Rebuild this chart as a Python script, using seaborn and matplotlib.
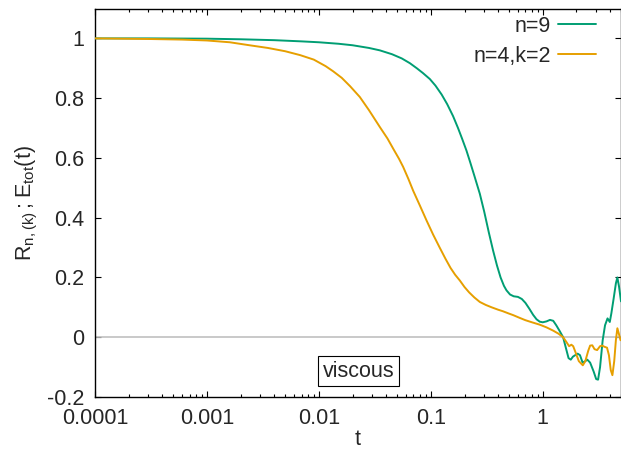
import numpy as np
import pandas as pd
import seaborn as sns
import matplotlib.pyplot as plt
from matplotlib.ticker import LogLocator, FixedLocator, NullFormatter

# values
t_n9 = [1e-4, 3e-4, 1e-3, 0.002, 0.004, 0.007, 0.01, 0.015, 0.02, 0.028,
        0.035, 0.045, 0.055, 0.065, 0.075, 0.085, 0.098, 0.11, 0.125, 0.14,
        0.158, 0.175, 0.19, 0.208, 0.225, 0.245, 0.274, 0.30, 0.33, 0.36,
        0.39, 0.42, 0.45, 0.474, 0.51, 0.55, 0.6, 0.65, 0.7, 0.76,
        0.82, 0.88, 0.94, 1.0, 1.08, 1.16, 1.24, 1.32, 1.42, 1.52,
        1.62, 1.7, 1.78, 1.86, 1.95, 2.05, 2.15, 2.27, 2.4, 2.5,
        2.65, 2.85, 3.0, 3.12, 3.25, 3.43, 3.6, 3.79, 3.97, 4.1,
        4.3, 4.5, 4.64, 4.8, 5.0]
r_n9 = [1.0, 1.0, 0.999, 0.997, 0.994, 0.99, 0.987, 0.982, 0.977, 0.968,
        0.96, 0.947, 0.933, 0.917, 0.9, 0.884, 0.864, 0.842, 0.812, 0.78,
        0.74, 0.70, 0.665, 0.625, 0.585, 0.54, 0.48, 0.42, 0.35, 0.29,
        0.24, 0.2, 0.172, 0.157, 0.143, 0.137, 0.135, 0.128, 0.115, 0.095,
        0.075, 0.06, 0.052, 0.05, 0.053, 0.058, 0.055, 0.04, 0.02, 0.0,
        -0.04, -0.07, -0.075, -0.065, -0.06, -0.055, -0.06, -0.085, -0.08, -0.075,
        -0.085, -0.115, -0.14, -0.142, -0.1, -0.01, 0.04, 0.063, 0.051, 0.08,
        0.13, 0.18, 0.2, 0.17, 0.12]

t_n4k2 = [1e-4, 3e-4, 6e-4, 1e-3, 0.0016, 0.0024, 0.0035, 0.005, 0.0068, 0.009,
          0.0115, 0.0134, 0.016, 0.019, 0.0232, 0.028, 0.0351, 0.041, 0.0466, 0.052,
          0.0566, 0.063, 0.0696, 0.08, 0.0915, 0.105, 0.12, 0.135, 0.15, 0.165,
          0.1815, 0.2, 0.22, 0.245, 0.274, 0.31, 0.35, 0.4, 0.44, 0.5,
          0.544, 0.62, 0.7, 0.8, 0.94, 1.08, 1.24, 1.38, 1.52, 1.62,
          1.72, 1.8, 1.87, 1.96, 2.1, 2.28, 2.4, 2.55, 2.65, 2.77,
          2.9, 3.06, 3.25, 3.4, 3.56, 3.75, 3.9, 4.05, 4.19, 4.35,
          4.5, 4.64, 4.8, 4.95]
r_n4k2 = [1.0, 0.998, 0.996, 0.993, 0.987, 0.977, 0.968, 0.957, 0.944, 0.929,
          0.907, 0.89, 0.868, 0.84, 0.804, 0.76, 0.703, 0.665, 0.628, 0.597,
          0.57, 0.53, 0.49, 0.44, 0.391, 0.343, 0.30, 0.263, 0.232, 0.209,
          0.19, 0.168, 0.15, 0.133, 0.118, 0.108, 0.10, 0.092, 0.087, 0.079,
          0.074, 0.065, 0.057, 0.05, 0.042, 0.033, 0.022, 0.012, 0.0, -0.015,
          -0.03, -0.025, -0.03, -0.05, -0.08, -0.094, -0.08, -0.045, -0.028, -0.027,
          -0.04, -0.043, -0.03, -0.028, -0.032, -0.035, -0.06, -0.11, -0.127, -0.08,
          -0.01, 0.03, 0.01, -0.01]

labels = ["n=9", "n=4,k=2"]
colors = {"n=9": "#009e73", "n=4,k=2": "#e69f00"}

df = pd.concat([
    pd.DataFrame({"t": t_n9, "R": r_n9, "case": labels[0]}),
    pd.DataFrame({"t": t_n4k2, "R": r_n4k2, "case": labels[1]}),
])

sns.set_theme(style="ticks")
plt.rcParams["font.family"] = ["Liberation Sans", "DejaVu Sans"]
plt.rcParams["mathtext.default"] = "regular"
fs = 15.5

fig = plt.figure(figsize=(6.21, 4.53), dpi=100)
ax = fig.add_axes([95 / 621, 1 - 397 / 453, 1 - 95 / 621, (397 - 8.5) / 453])

ax.axhline(0, color="#c0c0c0", lw=1.2, zorder=1)
sns.lineplot(data=df, x="t", y="R", hue="case", palette=colors, ax=ax,
             linewidth=1.4, estimator=None, sort=True, zorder=3)

ax.set_xscale("log")
ax.set_xlim(1e-4, 5)
ax.set_ylim(-0.2, 1.1)
ax.xaxis.set_major_locator(FixedLocator([1e-4, 1e-3, 1e-2, 1e-1, 1]))
ax.set_xticklabels(["0.0001", "0.001", "0.01", "0.1", "1"])
ax.xaxis.set_minor_locator(LogLocator(base=10, subs=np.arange(2, 10), numticks=20))
ax.xaxis.set_minor_formatter(NullFormatter())
ax.set_yticks([-0.2, 0, 0.2, 0.4, 0.6, 0.8, 1])
ax.set_yticklabels(["-0.2", "0", "0.2", "0.4", "0.6", "0.8", "1"])

for s in ax.spines.values():
    s.set_linewidth(1.0)
    s.set_color("black")
ax.tick_params(which="both", direction="in", top=True, right=True, color="black")
ax.tick_params(which="major", length=4.5, width=0.8)
ax.tick_params(which="minor", length=2.5, width=0.8)
ax.tick_params(axis="x", which="major", labelsize=fs, pad=8)
ax.tick_params(axis="y", which="major", labelsize=fs, pad=8)

ax.set_xlabel("t", fontsize=fs, labelpad=0)
ax.set_ylabel(r"$R_{n,(k)}\,;E_{tot}(t)$", fontsize=fs, labelpad=5)

ax.text(0.0226, -0.114, "viscous", fontsize=fs, ha="center", va="center",
        bbox=dict(boxstyle="square,pad=0.2", fc="white", ec="black", lw=0.8))

handles, labs = ax.get_legend_handles_labels()
ax.legend(handles, labs, loc="upper right", bbox_to_anchor=(596 / 621, 1 - 16 / 453),
          bbox_transform=fig.transFigure, frameon=False, markerfirst=False,
          fontsize=fs, handlelength=1.75, handletextpad=0.35, labelspacing=0.4,
          borderpad=0, borderaxespad=0, title=None)

fig.savefig("out.png", dpi=100)
